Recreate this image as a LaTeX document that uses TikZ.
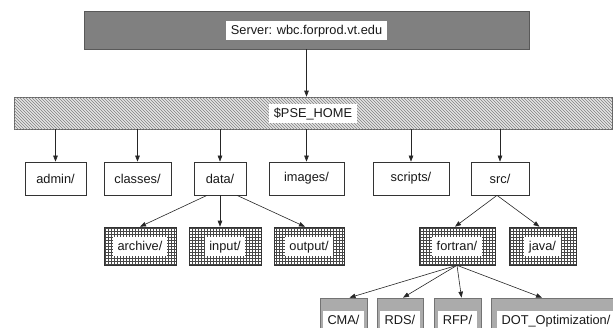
\documentclass[tikz,border=0pt]{standalone}
\usepackage{fontspec}
\setmainfont{Liberation Sans}
\usetikzlibrary{patterns,arrows.meta}
\newcommand\wtxt[1]{{\setlength{\fboxsep}{0pt}\colorbox{white}{\rule[-5.5pt]{0pt}{19pt}\hspace{4.5pt}#1\hspace{4.5pt}}}}
\begin{document}
\begin{tikzpicture}[x=1pt,y=-1pt,
  font=\fontsize{12.8}{15}\selectfont,
  every node/.style={inner sep=0pt, text=black!90},
  srv/.style={draw=black!65, line width=0.6pt, fill=black!50},
  hatch/.style={draw=black!60, line width=0.6pt, fill=black!10, postaction={pattern=north west lines, pattern color=black!50}},
  plainbox/.style={draw=black!80, line width=0.7pt, fill=white, minimum height=33pt},
  gridbox/.style={draw=black!80, line width=0.6pt, pattern=grid, pattern color=black!72, minimum height=38pt},
  graybox/.style={draw=black!55, line width=0.7pt, fill=black!33, minimum height=44pt},
  conn/.style={-{Triangle[length=6pt,width=4.5pt]}, line width=0.6pt, draw=black!85}
]
\useasboundingbox (0,0) rectangle (613,327);
\clip (0,0) rectangle (613,327);

\node[srv, minimum width=445pt, minimum height=38pt] (server) at (306.5,30) {\wtxt{Server: wbc.forprod.vt.edu}};
\node[hatch, minimum width=598pt, minimum height=32pt] (pse) at (313,113) {\wtxt{\$PSE\_HOME}};

\node[plainbox, minimum width=61pt] (admin)   at (55.5,178.5) {admin/};
\node[plainbox, minimum width=67pt] (classes) at (137.5,178.5) {classes/};
\node[plainbox, minimum width=52pt] (data)    at (220,178.5) {data/};
\node[plainbox, minimum width=75pt] (images)  at (306.5,178.5) {images/};
\node[plainbox, minimum width=76pt] (scripts) at (411,178.5) {scripts/};
\node[plainbox, minimum width=58pt] (src)     at (500,178.5) {src/};

\node[gridbox, minimum width=72pt] (archive) at (140,246) {\wtxt{archive/}};
\node[gridbox, minimum width=72pt] (input)   at (225,246) {\wtxt{input/}};
\node[gridbox, minimum width=70pt] (output)  at (309,246) {\wtxt{output/}};
\node[gridbox, minimum width=76pt] (fortran) at (457,246) {\wtxt{fortran/}};
\node[gridbox, minimum width=67pt] (java)    at (542.5,246) {\wtxt{java/}};

\node[graybox, minimum width=47pt] (cma) at (343.5,320) {\wtxt{CMA/}};
\node[graybox, minimum width=46pt] (rds) at (400,320) {\wtxt{RDS/}};
\node[graybox, minimum width=47pt] (rfp) at (457.5,320) {\wtxt{RFP/}};
\node[graybox, minimum width=130pt] (dot) at (556,320) {\wtxt{DOT\_Optimization/}};

\draw[conn] (server.south) -- (server.south |- pse.north);
\foreach \c in {admin,classes,data,images,scripts,src}
  \draw[conn] (\c.north |- pse.south) -- (\c.north);

\draw[conn] ([xshift=-13pt]data.south) -- (archive.north);
\draw[conn] (data.south) -- (data.south |- input.north);
\draw[conn] ([xshift=17pt]data.south) -- ([xshift=-4pt]output.north);

\draw[conn] ([xshift=-3pt]src.south) -- ([xshift=-2pt]fortran.north);
\draw[conn] ([xshift=-3pt]src.south) -- ([xshift=-3pt]java.north);

\draw[conn] (fortran.south) -- ([xshift=6pt]cma.north);
\draw[conn] (fortran.south) -- ([xshift=3pt]rds.north);
\draw[conn] (fortran.south) -- ([xshift=4pt]rfp.north);
\draw[conn] (fortran.south) -- ([xshift=-14pt]dot.north);
\end{tikzpicture}
\end{document}
